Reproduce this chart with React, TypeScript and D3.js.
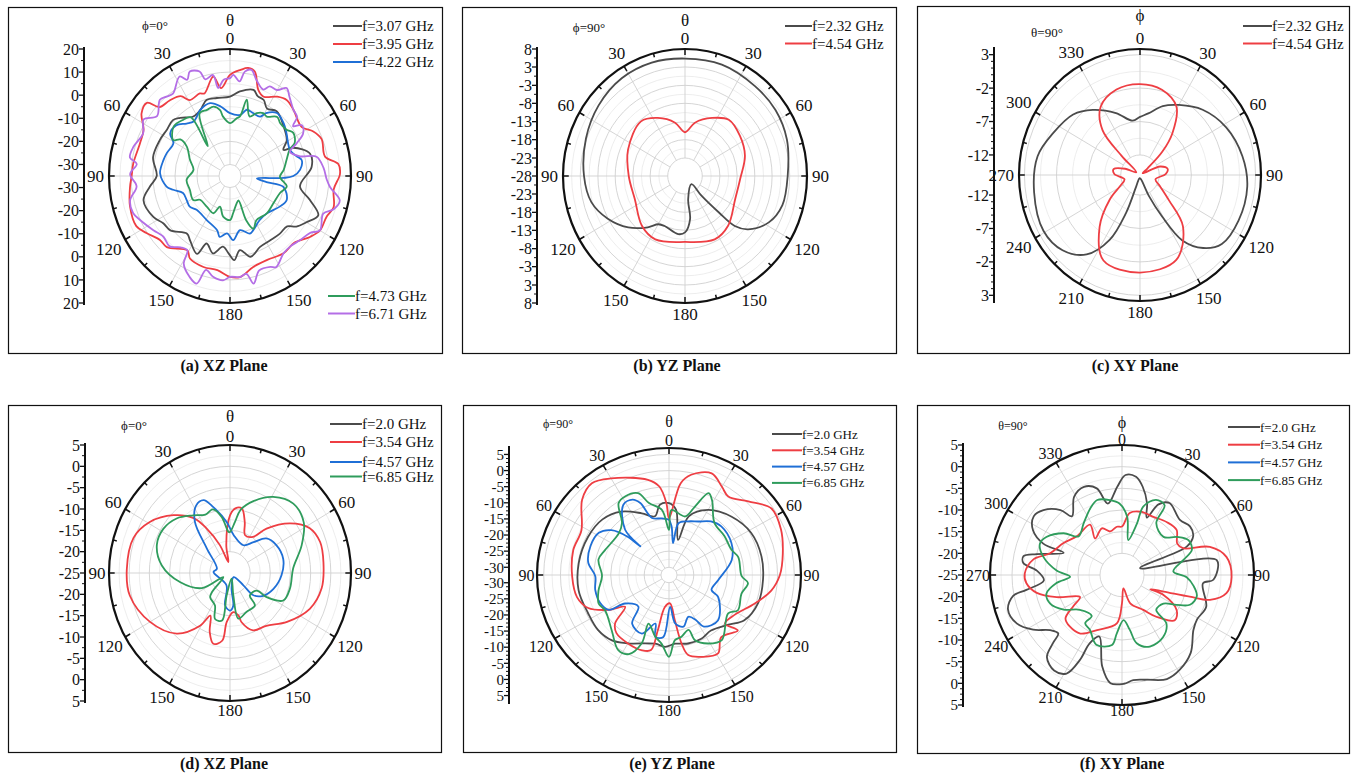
import React, { useRef, useEffect } from 'react';
import * as d3 from 'd3';

// [angle in degrees, clockwise from top; gain in dB]
type Pt = [number, number];

const SERIF = '"Liberation Serif", "Times New Roman", Times, serif';
const C_GRAY = '#4b4b4b';
const C_RED = '#ee3e43';
const C_BLUE = '#1f6fd6';
const C_GREEN = '#2f9c5c';
const C_PURPLE = '#b46ee6';

// ---------- (a) XZ plane, phi = 0 ----------
const aTicks = [20, 10, 0, -10, -20, -30];
const aTickLabels = ['20', '10', '0', '-10', '-20', '-30'];
const a307: Pt[] = [[0,-0.6],[7,1.9],[16,3.8],[20,1.8],[25,1.3],[30,-1.3],[37,0.2],[49,-2.6],[59,-4.9],[65,-8.2],[67,-3.7],[75,2.6],[84,2.3],[98,-2.9],[106,2.8],[113,8.6],[120,5.1],[126,2.3],[130,-1.1],[138,-1.3],[147,-1.7],[156,-1.4],[165,1.2],[172,-2.6],[177,1.5],[181,-1.4],[186,-4.2],[193,-0.6],[200,-3.9],[204,1.9],[213,-1.7],[218,-3.3],[229,0.9],[236,1.6],[243,4.1],[255,5.7],[263,1.6],[270,-1.7],[283,0.9],[296,0.5],[305,0],[313,0.5],[318,-1.1],[327,-4.3],[335,-3.3],[342,-0.4],[350,-0.7]];
const a395: Pt[] = [[0,8.8],[6,11.2],[10,12.5],[14,11.6],[19,4.5],[24,2.6],[32,5.5],[38,6.8],[45,5.7],[57,3.9],[63,7.5],[69,9.6],[79,9],[84,14.5],[89,15],[97,12.5],[106,14],[112,12.3],[120,12.2],[126,9.9],[135,6.1],[144,6.4],[155,5.1],[165,5.8],[174,9],[180,8.7],[188,6.2],[197,6.2],[207,5.1],[211,2.6],[223,7.1],[229,7.2],[237,10.3],[243,12.8],[254,12.3],[264,10.7],[270,9.7],[277,9.3],[289,8.3],[297,9.1],[304,13.5],[310,14.3],[313,8.8],[320,7.7],[327,6.2],[331,2.6],[339,3.3],[342,2.6],[350,8.7],[354,3.3]];
const a422: Pt[] = [[0,-7.8],[10,-8.1],[15,-5.3],[21,-5.8],[28,-5.9],[31,-3.2],[38,-0.4],[47,-1.6],[54,-3.3],[68,-5.5],[74,-3.6],[78,-1.7],[85,-3],[90,-6.2],[92,-10.7],[95,-22.7],[99,-18.2],[101,-10.3],[112,-7.2],[120,-8.7],[134,-11.7],[145,-11.6],[156,-9.2],[160,-8.5],[169,-11.1],[177,-7.2],[183,-10.1],[190,-8.2],[194,-10.8],[209,-13.2],[226,-13.9],[234,-12.4],[242,-12.7],[251,-12.4],[257,-8.5],[261,-5.8],[272,-3.2],[283,-4],[289,-4.6],[299,-5.6],[304,-2.2],[312,-2.2],[319,-4.9],[325,-6.2],[335,-3.3],[344,-2.2],[352,-4.6]];
const a473: Pt[] = [[0,-12.1],[7,-9.8],[10,-8.8],[13,-1.1],[19,-7.7],[24,-5.2],[29,-3.9],[33,-4.3],[40,-1.6],[45,-2.7],[52,-2.4],[57,-0.7],[64,-2.3],[67,-5.5],[75,-8.4],[84,-10.5],[91,-12.3],[100,-8.8],[108,-11.1],[121,-12],[134,-11.7],[148,-12.4],[155,-9.8],[159,-14.5],[160,-23.7],[166,-22.7],[175,-18.8],[180,-15.9],[190,-17.1],[199,-21],[205,-17.2],[218,-18],[233,-17.9],[238,-15.3],[252,-15.8],[265,-15.2],[279,-18.2],[291,-15.5],[303,-11.6],[305,-7.4],[301,-4.9],[310,-1.6],[319,-2.7],[325,-4],[322,-18.6],[333,-4.6],[340,-4.5],[346,-4],[351,-6.1],[353,-9.1]];
const a671: Pt[] = [[0,7.4],[2,8.8],[6,6.2],[8.5,10.7],[12,12],[16,8.4],[22,5.4],[25,7.8],[30,8],[34,11],[38,8.8],[45,5.7],[50,4.8],[53,0.9],[56,4.4],[61,3],[65,-1.6],[69,-5.8],[75,-2],[78,5.2],[85,7.6],[92,9],[96,10.7],[102,16],[107,14.3],[111,10.4],[120,12.2],[124,9],[131,7.3],[138,6],[144,6.4],[152,9.7],[155,8.4],[162,8],[167,12.8],[170,8],[174,9],[180,8.7],[184,10.3],[190,9.3],[195,7.1],[198,14],[203,12.3],[209,8.4],[211,2.6],[216,3.2],[222,6],[229,5.1],[236,7],[245,10.1],[250,11.9],[257,11.6],[264,7.7],[271,10.4],[277,7.7],[280,11.2],[286,10.7],[295,8.6],[302,11.3],[308,7.1],[316,10.9],[320,9.9],[324,9.1],[332,13.8],[335,11],[338,13.8],[343,12.3],[345,8.3],[350,9.4],[352,3.5],[356,6.8]];

// ---------- (b) YZ plane, phi = 90 ----------
const bTicks = [8, 2.9, -2.3, -7.4, -12.6, -17.7, -22.9, -28];
const bTickLabels = ['8', '3', '-3', '-8', '-13', '-18', '-23', '-28'];
const b232: Pt[] = [[0,5.3],[19,5.4],[39,4.8],[55,4.6],[71,3.8],[90,2.3],[106,1.9],[118,0],[129,-4],[134,-7.6],[136,-13.7],[139,-20.6],[141,-25],[172,-21.3],[173,-15.7],[180,-12],[187,-11.4],[203,-12.6],[210,-12.2],[217,-9.8],[229,-5.8],[242,-2.2],[255,0.6],[270,1.8],[290,3.1],[308,4.4],[326,5.4],[343,5.6]];
const b454: Pt[] = [[0,-15.6],[11,-12.6],[26,-9.7],[39,-7.5],[55,-8.2],[72,-9.4],[93,-11.7],[114,-11.8],[138,-9],[154,-8],[180,-9.3],[206,-8],[222,-9],[246,-11.8],[270,-11.4],[294,-9.6],[320,-7.8],[334,-9.7],[349,-12.6]];

// ---------- (c) XY plane, theta = 90 ----------
const cTicks = [3, -2, -7, -12];
const cTickLabels = ['3', '-2', '-7', '-12'];
const c232: Pt[] = [[0,-6.3],[8,-5.7],[19,-4.1],[30,-2.9],[45,-1.2],[62,0.2],[80,1.2],[96,1.8],[114,1.8],[129,1.4],[138,-0.3],[146,-3.2],[151,-7.9],[156,-11.5],[170,-14.4],[190,-14.5],[199,-13.2],[201,-8.9],[206,-4.2],[215,-0.5],[227,1.5],[241,2.2],[261,1.7],[280,1.2],[295,-0.1],[311,-1.2],[323,-2.8],[338,-5],[352,-6.8]];
const c454: Pt[] = [[0,-1.4],[15,-1.8],[29,-3.3],[39,-7],[45,-10.1],[50,-13.5],[58,-14.5],[68,-11.6],[78,-10.6],[88,-11],[105,-12.5],[118,-11.5],[130,-9.1],[139,-4.8],[156,-1.1],[180,-0.4],[204,-1],[219,-5],[232,-9],[242,-11.5],[255,-12.5],[272,-11],[282,-10.8],[292,-12.5],[305,-14.3],[315,-11],[319,-6.1],[329,-3.1],[344,-1.7]];

// ---------- (d) XZ plane, phi = 0 ----------
const dTicks = [5, 0, -5, -10, -15, -20, -25];
const dTickLabels = ['5', '0', '-5', '-10', '-15', '-20', '-25'];
const d200: Pt[] = [];
const d354: Pt[] = [[352,-18.4],[0,-11.5],[5,-9.8],[11,-9.6],[17,-12.5],[23,-15.4],[34,-14.8],[41,-11.2],[52,-6.1],[62,-2.6],[72,-1.5],[84,-1.7],[99,-2],[113,-3.5],[129,-6.8],[144,-9.7],[157,-10.4],[166,-13.1],[168,-14.8],[175,-15.8],[184,-13.5],[187,-9],[194,-7.9],[200,-10.3],[206,-13.9],[211,-10.6],[223,-5.6],[240,-2.1],[258,0.4],[272,0.6],[289,0.3],[301,-1.8],[314,-5.5],[325,-9.3],[331,-13.1],[339,-18],[351,-22.4]];
const d457: Pt[] = [[287,-21.6],[315,-16.9],[324,-10.2],[332,-7.1],[339,-6.7],[345,-9],[356,-13],[6,-16.1],[27,-17.7],[39,-15.7],[48,-12.9],[60,-11.8],[76,-11.4],[92,-12.2],[109,-13.6],[123,-15.2],[132,-17.2],[131,-20.6],[137,-23.7],[174,-21.3],[174,-17.3],[180,-16.2],[189,-17.3],[197,-22],[273,-20.9]];
const d685: Pt[] = [[0,-15.4],[6,-12.9],[10,-10],[19,-7.2],[31,-4.2],[44,-2.4],[57,-3.2],[70,-6.1],[86,-9.3],[104,-9.7],[116,-10.3],[122,-14.3],[122,-17.2],[137,-17.8],[141,-15.2],[156,-15],[169,-14.1],[171,-19.7],[164,-23.6],[189,-19.7],[190,-13.7],[199,-13.6],[206,-16.5],[221,-17.5],[225,-18.7],[240,-23.1],[243,-17.2],[260,-12.5],[276,-8],[290,-5.7],[302,-5.5],[314,-6.6],[326,-8.7],[336,-10],[344,-9.5],[351,-11.7],[358,-15.4]];

// ---------- (e) YZ plane, phi = 90 ----------
const eTicks = [5, 0, -5, -10, -15, -20, -25, -30];
const eTickLabels = ['5', '0', '-5', '-10', '-15', '-20', '-25', '-30'];
const e200: Pt[] = [[0,-10.1],[6,-12.1],[14,-21.2],[18,-13.3],[30,-9.1],[46,-6.4],[62,-4.6],[78,-4.2],[93,-4.3],[108,-4.4],[122,-5.9],[131,-8.9],[144,-11.1],[154,-10.4],[165,-10.4],[175,-11],[183,-10.1],[191,-10.7],[210,-7.9],[220,-5.9],[231,-5.2],[244,-5.5],[260,-5],[278,-5.2],[296,-5.5],[311,-6.1],[324,-8.1],[337,-11.6],[347,-13.7],[353,-10.4]];
const e354: Pt[] = [[0,-14.8],[7,-3.7],[12,-0.6],[22,1.6],[30,-0.8],[36,-2.3],[46,0.5],[56,4.5],[67,3.9],[79,2.2],[90,0.7],[99,-1.5],[109,-5.3],[122,-9.2],[132,-9.9],[130,-5.6],[141,-7.6],[149,-4],[159,-5.2],[167,-6.9],[170,-10.8],[173,-18.3],[178,-23.6],[187,-22.4],[191,-15],[193,-8.5],[199,-7.7],[210,-7.9],[221,-8.5],[227,-10.4],[233,-16],[239,-11.4],[247,-6.2],[256,-4.1],[269,-3.5],[285,-2.8],[298,-2.8],[312,2.5],[321,4.2],[330,2.2],[348,-2.2],[354,-4.8],[358,-10.1]];
const e457: Pt[] = [[0,-15.3],[3,-17.4],[7,-22.4],[10,-16.1],[19,-14.8],[28,-13.6],[37,-11.6],[46,-10.7],[62,-11.3],[76,-13.1],[96,-17.6],[110,-18.9],[115,-16.2],[134,-12.1],[147,-13.3],[150,-16.2],[156,-18.2],[165,-15.8],[173,-17.3],[178,-22.5],[185,-13.1],[192,-12.8],[195,-16.8],[204,-12.5],[216,-13.7],[223,-19],[236,-16.6],[239,-11.4],[247,-10.1],[258,-9.9],[269,-10.4],[279,-8],[291,-7.3],[302,-7.7],[309,-10.3],[314,-15.4],[316,-20.1],[317,-13.2],[328,-6.7],[335,-6.6],[339,-8.5],[344,-14],[353,-14.7]];
const e685: Pt[] = [[0,-18.4],[2,-12.2],[15,-13.6],[20,-9.8],[25,-4.4],[29,-5.9],[40,-11.3],[54,-11.9],[67,-12.2],[75,-11],[91,-10.7],[96,-8.7],[105,-10],[118,-9.1],[124,-11.1],[142,-6.8],[151,-8.1],[159,-10.7],[161,-14.4],[169,-12.9],[175,-12.1],[180,-7],[186,-11],[192,-12.8],[202,-16.1],[201,-9.7],[206,-5.1],[213,-4.6],[225,-8.2],[240,-10.4],[247,-9.6],[257,-10.8],[269,-12.4],[283,-10.8],[292,-11.8],[311,-12.6],[319,-11],[326,-5.5],[332,-4.7],[340,-5.4],[345,-9.3],[354,-12.1]];

// ---------- (f) XY plane, theta = 90 ----------
const fTicks = [5, 0, -5, -10, -15, -20, -25];
const fTickLabels = ['5', '0', '-5', '-10', '-15', '-20', '-25'];
const f200: Pt[] = [[349,-8.2],[357,-4.6],[2,-1.9],[8,-2.1],[13,-4.1],[19,-7.5],[23,-10.6],[27,-6.7],[33,-5.2],[46,-6.7],[54,-5.9],[61,-6.5],[66,-8.9],[69,-20.6],[81,-3.2],[93,-4.2],[96,-6.5],[111,-4.5],[121,-5.1],[128,-4.4],[139,-1.2],[149,0.5],[157,1.1],[167,-0.2],[174,-0.6],[179,0.1],[186,0.1],[192,-3.4],[200,-9.9],[205,-7.6],[206,-3.2],[209,1],[215,1.9],[222,0.5],[225,-2.9],[227,-5.2],[232,-4.3],[238,-1.2],[245,1.4],[253,2.1],[259,0.2],[261,-3],[266,-7.2],[273,-5.6],[277,-2.4],[281,-2.2],[284,-5],[291,-10.8],[292,-5.7],[297,-2.3],[304,-0.8],[310,-1.7],[317,-4.5],[320,-7.3],[329,-3.9],[337,-2.9],[344,-4.2]];
const f354: Pt[] = [[0,-13.8],[7,-10.6],[16,-9.8],[28,-9.8],[40,-9.1],[50,-8.8],[60,-10.5],[66,-9.8],[72,-4],[80,-0.9],[91,-0.1],[100,-0.9],[106,-4.2],[108,-8.8],[112,-14.8],[117,-17.8],[116,-14.5],[123,-10.2],[131,-9.1],[141,-12.6],[149,-15.6],[164,-18.2],[174,-21.9],[180,-18.5],[186,-13.8],[204,-11.1],[215,-8.5],[225,-8.2],[232,-8.7],[237,-11.8],[242,-14.2],[251,-9.3],[258,-5.2],[265,-3.2],[271,-2.9],[280,-4.5],[287,-7.9],[299,-9.8],[311,-11.4],[328,-11.3],[324,-14.6],[337,-13.3],[345,-14.6],[354,-13.8]];
const f457: Pt[] = [];
const f685: Pt[] = [[351,-7.5],[358,-8.5],[5,-11.5],[10,-16.8],[16,-12.6],[17,-8.5],[24,-6],[31,-6.2],[33,-10.7],[47,-12.1],[55,-9.7],[62,-7.9],[70,-8.1],[76,-10.6],[86,-13.3],[92,-10.3],[99,-8.5],[106,-7.3],[114,-8.1],[119,-10.8],[125,-13.5],[136,-13.8],[138,-9.9],[147,-7.9],[159,-7.3],[168,-8.9],[172,-12.2],[178,-14.6],[185,-11.5],[188,-8.7],[200,-7.9],[210,-10.4],[217,-11.1],[216,-13.3],[230,-12.5],[239,-9.5],[248,-7.4],[256,-7.3],[263,-10],[268,-13.2],[274,-10.1],[283,-6.7],[291,-5],[297,-5.7],[306,-8.6],[312,-11.7],[324,-10.2],[335,-8],[342,-6.8]];

const panels = [
  {
    cx: 230, cy: 176, rx: 121, ry: 127, axisX: 84, domain: [-35, 20], ticks: aTicks, tickLabels: aTickLabels, minor: 1,
    mirror: true, sym: 'θ', symY: 20, plane: 'ϕ=0°', planeX: 155, planeY: 25, planeFs: 13, labelFs: 17, axisFs: 16, labOff: 5,
    frame: [8, 7, 442, 353], caption: '(a) XZ Plane', capX: 224, capY: 365,
    series: [
      { name: 'f=3.07 GHz', color: C_GRAY, data: a307 },
      { name: 'f=3.95 GHz', color: C_RED, data: a395 },
      { name: 'f=4.22 GHz', color: C_BLUE, data: a422 },
      { name: 'f=4.73 GHz', color: C_GREEN, data: a473 },
      { name: 'f=6.71 GHz', color: C_PURPLE, data: a671 },
    ],
    legends: [
      { x: 333, y: 26, dy: 18, len: 29, fs: 15, items: [0, 1, 2] },
      { x: 328, y: 296, dy: 17.5, len: 27, fs: 15, items: [3, 4] },
    ],
  },
  {
    cx: 685, cy: 176, rx: 122, ry: 127, axisX: 537, domain: [-28, 8], ticks: bTicks, tickLabels: bTickLabels, minor: 1,
    mirror: true, sym: 'θ', symY: 20, plane: 'ϕ=90°', planeX: 589, planeY: 27, planeFs: 13, labelFs: 17, axisFs: 16, labOff: 5,
    frame: [462, 7, 896, 353], caption: '(b) YZ Plane', capX: 677, capY: 365,
    series: [
      { name: 'f=2.32 GHz', color: C_GRAY, data: b232 },
      { name: 'f=4.54 GHz', color: C_RED, data: b454 },
    ],
    legends: [{ x: 785, y: 26, dy: 17.5, len: 27, fs: 15, items: [0, 1] }],
  },
  {
    cx: 1140, cy: 175, rx: 121, ry: 126, axisX: 994, domain: [-15, 3.85], ticks: cTicks, tickLabels: cTickLabels, minor: 4,
    mirror: false, sym: 'ϕ', symY: 15, plane: 'θ=90°', planeX: 1047, planeY: 32, planeFs: 13, labelFs: 17, axisFs: 16, labOff: 5,
    frame: [917, 6, 1349, 353], caption: '(c) XY Plane', capX: 1135, capY: 365,
    series: [
      { name: 'f=2.32 GHz', color: C_GRAY, data: c232 },
      { name: 'f=4.54 GHz', color: C_RED, data: c454 },
    ],
    legends: [{ x: 1243, y: 26, dy: 17.5, len: 29, fs: 15, items: [0, 1] }],
  },
  {
    cx: 230, cy: 573, rx: 121, ry: 128, axisX: 85, domain: [-25, 5], ticks: dTicks, tickLabels: dTickLabels, minor: 1,
    mirror: true, sym: 'θ', symY: 416, plane: 'ϕ=0°', planeX: 134, planeY: 425, planeFs: 13, labelFs: 17, axisFs: 16, labOff: 3.5,
    frame: [8, 405, 441, 752], caption: '(d) XZ Plane', capX: 224, capY: 763,
    series: [
      { name: 'f=2.0 GHz', color: C_GRAY, data: d200 },
      { name: 'f=3.54 GHz', color: C_RED, data: d354 },
      { name: 'f=4.57 GHz', color: C_BLUE, data: d457 },
      { name: 'f=6.85 GHz', color: C_GREEN, data: d685 },
    ],
    legends: [
      { x: 330, y: 424, dy: 18, len: 32, fs: 15, items: [0, 1] },
      { x: 330, y: 462, dy: 14.5, len: 32, fs: 15, items: [2, 3] },
    ],
  },
  {
    cx: 669, cy: 575, rx: 132, ry: 127, axisX: 509, domain: [-32.4, 7], ticks: eTicks, tickLabels: eTickLabels, minor: 3,
    mirror: true, sym: 'θ', symY: 421, plane: 'ϕ=90°', planeX: 558, planeY: 424, planeFs: 12, labelFs: 16, axisFs: 15, labOff: 2.5,
    frame: [463, 405, 896, 752], caption: '(e) YZ Plane', capX: 672, capY: 763,
    series: [
      { name: 'f=2.0 GHz', color: C_GRAY, data: e200 },
      { name: 'f=3.54 GHz', color: C_RED, data: e354 },
      { name: 'f=4.57 GHz', color: C_BLUE, data: e457 },
      { name: 'f=6.85 GHz', color: C_GREEN, data: e685 },
    ],
    legends: [{ x: 772, y: 434, dy: 16.3, len: 30, fs: 13, items: [0, 1, 2, 3] }],
  },
  {
    cx: 1122, cy: 575, rx: 132, ry: 130, axisX: 963, domain: [-25, 5], ticks: fTicks, tickLabels: fTickLabels, minor: 3,
    mirror: false, sym: 'ϕ', symY: 422, plane: 'θ=90°', planeX: 1013, planeY: 426, planeFs: 12, labelFs: 16, axisFs: 15, labOff: 0,
    frame: [917, 405, 1349, 753], caption: '(f) XY Plane', capX: 1122, capY: 763,
    series: [
      { name: 'f=2.0 GHz', color: C_GRAY, data: f200 },
      { name: 'f=3.54 GHz', color: C_RED, data: f354 },
      { name: 'f=4.57 GHz', color: C_BLUE, data: f457 },
      { name: 'f=6.85 GHz', color: C_GREEN, data: f685 },
    ],
    legends: [{ x: 1228, y: 427, dy: 17.7, len: 32, fs: 13, items: [0, 1, 2, 3] }],
  },
];

function drawPanel(svg: any, p: any) {
  const g = svg.append('g');
  const rScale = d3.scaleLinear().domain(p.domain).range([0, 1]).clamp(true);
  const toXY = (deg: number, rho: number): [number, number] => {
    const a = (deg * Math.PI) / 180;
    return [p.cx + p.rx * rho * Math.sin(a), p.cy - p.ry * rho * Math.cos(a)];
  };

  // frame
  g.append('rect')
    .attr('x', p.frame[0] + 0.5)
    .attr('y', p.frame[1] + 0.5)
    .attr('width', p.frame[2] - p.frame[0])
    .attr('height', p.frame[3] - p.frame[1])
    .attr('fill', 'none')
    .attr('stroke', '#111')
    .attr('stroke-width', 1.2);

  // grid rings
  const majorRho = p.ticks.map((v: number) => rScale(v)).filter((r: number) => r > 0.01 && r < 0.995);
  const minorRho: number[] = [];
  for (let i = 0; i < p.ticks.length - 1; i++) {
    minorRho.push(rScale((p.ticks[i] + p.ticks[i + 1]) / 2));
  }
  const hole = d3.min(majorRho) as number;

  g.selectAll('.minor-ring')
    .data(minorRho.filter(r => r > hole))
    .enter()
    .append('ellipse')
    .attr('cx', p.cx).attr('cy', p.cy)
    .attr('rx', (r: number) => p.rx * r)
    .attr('ry', (r: number) => p.ry * r)
    .attr('fill', 'none')
    .attr('stroke', '#e9e9e9')
    .attr('stroke-width', 0.8);

  g.selectAll('.major-ring')
    .data(majorRho)
    .enter()
    .append('ellipse')
    .attr('cx', p.cx).attr('cy', p.cy)
    .attr('rx', (r: number) => p.rx * r)
    .attr('ry', (r: number) => p.ry * r)
    .attr('fill', 'none')
    .attr('stroke', '#d0d0d0')
    .attr('stroke-width', 0.9);

  // spokes
  d3.range(0, 360, 30).forEach(a => {
    const [x1, y1] = toXY(a, hole);
    const [x2, y2] = toXY(a, 1);
    g.append('line')
      .attr('x1', x1).attr('y1', y1).attr('x2', x2).attr('y2', y2)
      .attr('stroke', '#d0d0d0').attr('stroke-width', 0.9);
  });

  // data curves
  const line = d3.line<Pt>()
    .x(d => toXY(d[0], rScale(d[1]))[0])
    .y(d => toXY(d[0], rScale(d[1]))[1])
    .curve(d3.curveCatmullRomClosed.alpha(0.5));

  p.series.forEach((s: any) => {
    if (!s.data.length) return;
    g.append('path')
      .attr('d', line(s.data))
      .attr('fill', 'none')
      .attr('stroke', s.color)
      .attr('stroke-width', 1.8)
      .attr('stroke-linejoin', 'round');
  });

  // outer ring with inward ticks
  g.append('ellipse')
    .attr('cx', p.cx).attr('cy', p.cy)
    .attr('rx', p.rx).attr('ry', p.ry)
    .attr('fill', 'none')
    .attr('stroke', '#111')
    .attr('stroke-width', 2.2);

  d3.range(0, 360, 15).forEach(a => {
    const len = a % 30 === 0 ? 6 : 4;
    const [x1, y1] = toXY(a, 1);
    const [x2, y2] = toXY(a, 1 - len / p.ry);
    g.append('line')
      .attr('x1', x1).attr('y1', y1).attr('x2', x2).attr('y2', y2)
      .attr('stroke', '#111').attr('stroke-width', 1.5);
  });

  // angle labels
  d3.range(0, 360, 30).forEach(a => {
    const label = p.mirror ? String(a <= 180 ? a : 360 - a) : String(a);
    const rad = (a * Math.PI) / 180;
    const s = Math.sin(rad);
    const c = Math.cos(rad);
    const half = label.length * p.labelFs * 0.25;
    const off = p.labOff + half * Math.abs(s) + p.labelFs * 0.35 * Math.abs(c);
    const [x0, y0] = toXY(a, 1);
    g.append('text')
      .attr('x', x0 + off * s)
      .attr('y', y0 - off * c)
      .attr('text-anchor', 'middle')
      .attr('dy', '0.35em')
      .style('font-family', SERIF)
      .style('font-size', `${p.labelFs}px`)
      .style('fill', '#111')
      .text(label);
  });

  g.append('text')
    .attr('x', p.cx)
    .attr('y', p.symY)
    .attr('text-anchor', 'middle')
    .attr('dy', '0.35em')
    .style('font-family', SERIF)
    .style('font-size', `${p.labelFs}px`)
    .style('fill', '#111')
    .text(p.sym);

  g.append('text')
    .attr('x', p.planeX)
    .attr('y', p.planeY)
    .attr('text-anchor', 'middle')
    .attr('dy', '0.35em')
    .style('font-family', SERIF)
    .style('font-size', `${p.planeFs}px`)
    .style('fill', '#111')
    .text(p.plane);

  // left radial axis (mirrored above / below centre)
  g.append('line')
    .attr('x1', p.axisX).attr('x2', p.axisX)
    .attr('y1', p.cy - p.ry - 2).attr('y2', p.cy + p.ry + 2)
    .attr('stroke', '#111').attr('stroke-width', 2);

  for (let i = 0; i < p.ticks.length - 1; i++) {
    for (let k = 1; k <= p.minor; k++) {
      const v = p.ticks[i] + ((p.ticks[i + 1] - p.ticks[i]) * k) / (p.minor + 1);
      const r = rScale(v);
      [p.cy - p.ry * r, p.cy + p.ry * r].forEach(y => {
        g.append('line')
          .attr('x1', p.axisX - 3).attr('x2', p.axisX)
          .attr('y1', y).attr('y2', y)
          .attr('stroke', '#111').attr('stroke-width', 1);
      });
    }
  }

  p.ticks.forEach((v: number, i: number) => {
    const r = rScale(v);
    const ys = r < 0.01 ? [p.cy] : [p.cy - p.ry * r, p.cy + p.ry * r];
    ys.forEach(y => {
      g.append('line')
        .attr('x1', p.axisX - 5).attr('x2', p.axisX)
        .attr('y1', y).attr('y2', y)
        .attr('stroke', '#111').attr('stroke-width', 1.3);
      g.append('text')
        .attr('x', p.axisX - 5)
        .attr('y', y)
        .attr('dy', '0.35em')
        .attr('text-anchor', 'end')
        .style('font-family', SERIF)
        .style('font-size', `${p.axisFs}px`)
        .style('fill', '#111')
        .text(p.tickLabels[i]);
    });
  });

  // legends
  p.legends.forEach((lg: any) => {
    lg.items.forEach((idx: number, j: number) => {
      const s = p.series[idx];
      const y = lg.y + j * lg.dy;
      g.append('line')
        .attr('x1', lg.x).attr('x2', lg.x + lg.len)
        .attr('y1', y).attr('y2', y)
        .attr('stroke', s.color).attr('stroke-width', 2);
      g.append('text')
        .attr('x', lg.x + lg.len)
        .attr('y', y)
        .attr('dy', '0.35em')
        .style('font-family', SERIF)
        .style('font-size', `${lg.fs}px`)
        .style('fill', '#111')
        .text(s.name);
    });
  });

  // caption
  g.append('text')
    .attr('x', p.capX)
    .attr('y', p.capY)
    .attr('text-anchor', 'middle')
    .attr('dy', '0.35em')
    .style('font-family', SERIF)
    .style('font-size', '16px')
    .style('font-weight', 'bold')
    .style('fill', '#111')
    .text(p.caption);
}

export default function App() {
  const svgRef = useRef<SVGSVGElement>(null);

  useEffect(() => {
    const svg = d3.select(svgRef.current);
    svg.selectAll('*').remove();
    svg.append('rect').attr('width', 1357).attr('height', 774).attr('fill', '#fff');
    panels.forEach(p => drawPanel(svg, p));
  }, []);

  return (
    <svg
      ref={svgRef}
      width={1357}
      height={774}
      style={{ position: 'absolute', left: 0, top: 0, display: 'block' }}
    />
  );
}
